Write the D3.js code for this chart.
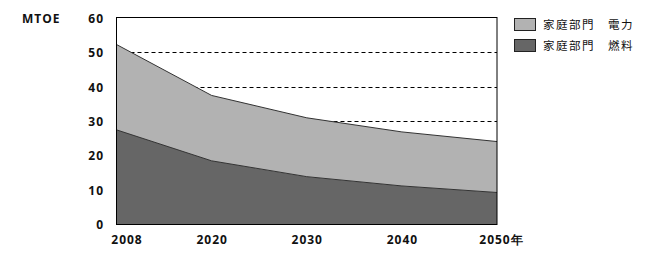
<!DOCTYPE html>
<html><head><meta charset="utf-8">
<script src="https://cdn.jsdelivr.net/npm/d3@7/dist/d3.min.js"></script>
<style>
body{margin:0;background:#fff;}
svg{display:block;}
text{font-family:"Open Sans","Liberation Sans",sans-serif;font-weight:bold;font-size:12px;letter-spacing:1px;fill:#111;}
.cjk{font-family:"Noto Sans CJK JP",sans-serif;font-weight:normal;font-size:11.5px;letter-spacing:1.5px;}
</style></head>
<body>
<script>
const years = ["2008","2020","2030","2040","2050"];
const yearLabels = ["2008","2020","2030","2040","2050年"];
const fuel = [27.5, 18.5, 13.9, 11.2, 9.3];
const electricity = [24.8, 19.0, 17.1, 15.7, 14.8];
const yTicks = [0,10,20,30,40,50,60];
const gridValues = [30,40,50];
const seriesNames = ["家庭部門　電力","家庭部門　燃料"];
const unitLabel = "MTOE";

const W=645,H=260;
const svg=d3.select("body").append("svg").attr("width",W).attr("height",H);
const x=d3.scalePoint().domain(years).range([116.5,497]);
const y=d3.scaleLinear().domain([0,60]).range([224.5,18]);

// grid
svg.append("g").selectAll("line").data(gridValues).join("line")
  .attr("x1",116.5).attr("x2",497).attr("y1",d=>Math.round(y(d))+0.5).attr("y2",d=>Math.round(y(d))+0.5)
  .attr("stroke","#000").attr("stroke-width",1).attr("stroke-dasharray","4,3");

const data=years.map((yr,i)=>({yr,fuel:fuel[i],total:fuel[i]+electricity[i]}));
const areaTop=d3.area().x(d=>x(d.yr)).y0(d=>y(d.fuel)).y1(d=>y(d.total));
const areaBot=d3.area().x(d=>x(d.yr)).y0(y(0)).y1(d=>y(d.fuel));
svg.append("path").datum(data).attr("d",areaTop).attr("fill","#b2b2b2");
svg.append("path").datum(data).attr("d",areaBot).attr("fill","#666666");
svg.append("path").datum(data).attr("d",d3.line().x(d=>x(d.yr)).y(d=>y(d.total))).attr("fill","none").attr("stroke","#333").attr("stroke-width",1);
svg.append("path").datum(data).attr("d",d3.line().x(d=>x(d.yr)).y(d=>y(d.fuel))).attr("fill","none").attr("stroke","#333").attr("stroke-width",1);

// frame
svg.append("rect").attr("x",116.5).attr("y",17.5).attr("width",380.5).attr("height",207)
  .attr("fill","none").attr("stroke","#000").attr("stroke-width",1);

// y axis labels
const yAxis=d3.axisLeft(y).tickValues(yTicks).tickSize(0).tickPadding(0);
const gy=svg.append("g").attr("transform","translate(104,0)").call(yAxis);
gy.select(".domain").remove();
gy.selectAll("text").attr("font-family",null).attr("font-size",null).attr("fill",null).attr("dy","0.36em").attr("x",0);

// x axis labels
const xAxis=d3.axisBottom(x).tickSize(0).tickPadding(0).tickFormat((d,i)=>yearLabels[i]);
const gx=svg.append("g").attr("transform","translate(0,244)").call(xAxis);
gx.select(".domain").remove();
gx.selectAll("text").attr("font-family",null).attr("font-size",null).attr("fill",null).attr("dy",0)
  .attr("dx",(d,i)=>i===0?10:(i===years.length-1?4:0));

svg.append("text").attr("x",22).attr("y",23).text(unitLabel);

// legend
const lg=svg.append("g");
const cols=["#b2b2b2","#666666"];
seriesNames.forEach((n,i)=>{
  lg.append("rect").attr("x",514.5).attr("y",18.5+i*21).attr("width",21).attr("height",12)
    .attr("fill",cols[i]).attr("stroke","#222").attr("stroke-width",1);
  lg.append("text").attr("class","cjk").attr("x",543).attr("y",28.5+i*21).text(n);
});
</script>
</body></html>
